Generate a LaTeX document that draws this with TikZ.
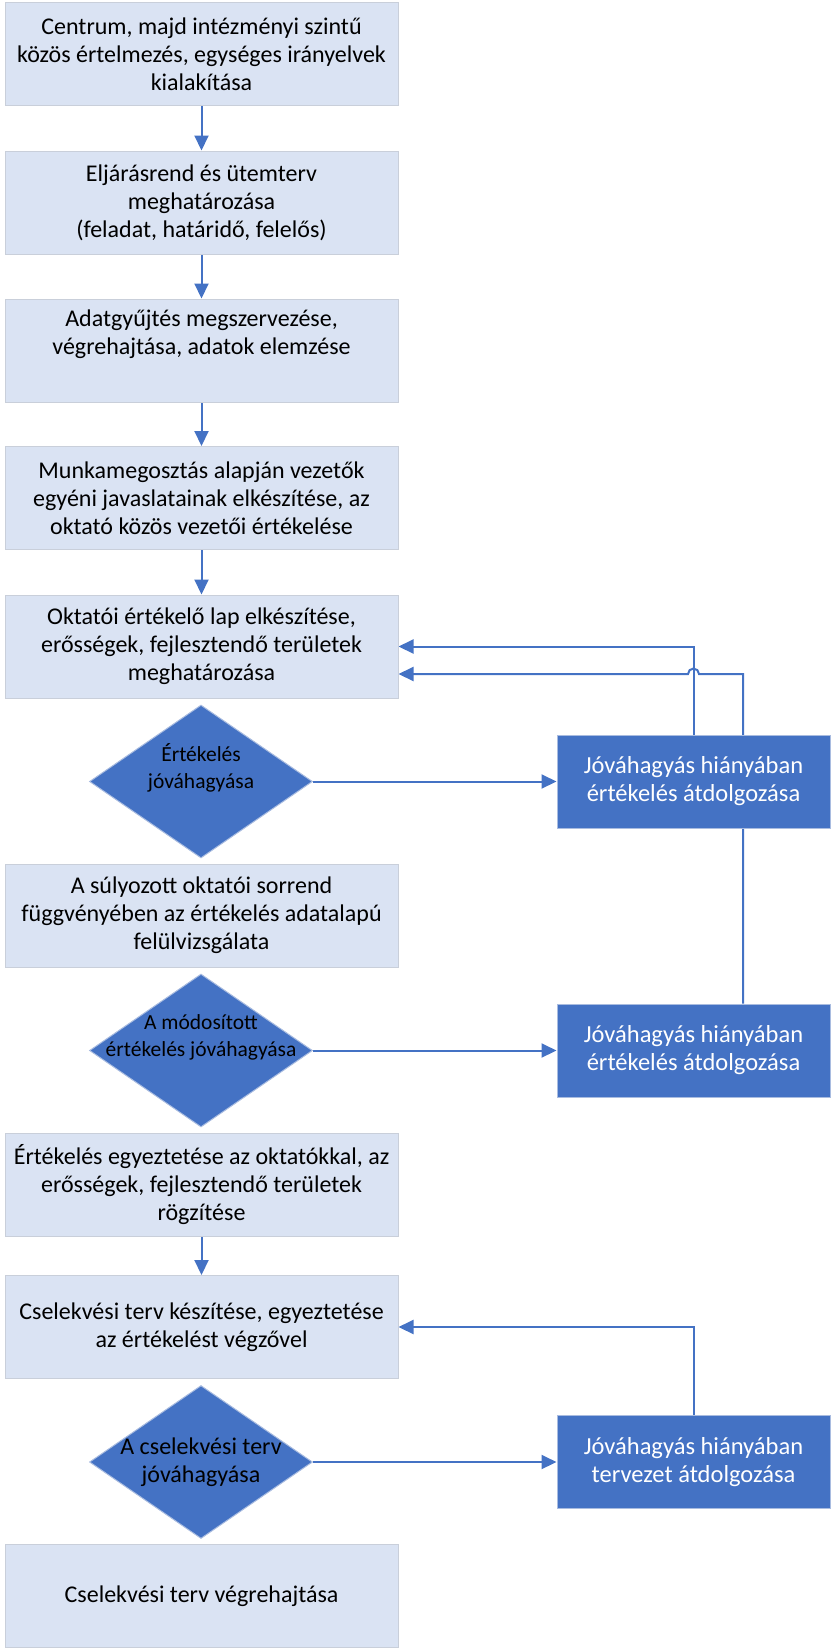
\documentclass[tikz,border=0pt]{standalone}
\usepackage{fontspec}
\setmainfont{Carlito}
\usetikzlibrary{shapes.geometric,arrows.meta,backgrounds}
\definecolor{lightbox}{HTML}{DAE3F3}
\definecolor{lightedge}{HTML}{C9CFDA}
\definecolor{darkblue}{HTML}{4472C4}
\definecolor{darkedge}{HTML}{A9BCE0}
\tikzset{
  stepbox/.style={draw=lightedge, line width=1pt, fill=lightbox, minimum width=393pt, minimum height=103pt, inner sep=0pt, align=center, text=black, font=\fontsize{24}{28}\selectfont},
  altbox/.style={draw=darkedge, line width=1pt, fill=darkblue, minimum width=273pt, minimum height=93pt, inner sep=0pt, align=center, text=white, font=\fontsize{24.5}{28}\selectfont},
  decide/.style={diamond, draw=darkedge, line width=1pt, fill=darkblue, minimum width=223pt, minimum height=153pt, inner sep=0pt, aspect=1.46},
  dlabel/.style={align=center, text=black, inner sep=0pt},
  arr/.style={draw=darkblue, line width=2pt, -{Triangle[width=14pt,length=15pt]}},
}
\begin{document}
\begin{tikzpicture}[x=1pt,y=-1pt]
\useasboundingbox (0,0) rectangle (830,1649);
\node[stepbox] (b1) at (201.5,54) {Centrum, majd intézményi szintű\\közös értelmezés, egységes irányelvek\\kialakítása};
\node[stepbox] (b2) at (201.5,202.5) {Eljárásrend és ütemterv\\meghatározása\\(feladat, határidő, felelős)};
\node[stepbox] (b3) at (201.5,350.5) {Adatgyűjtés megszervezése,\\végrehajtása, adatok elemzése\\\strut};
\node[stepbox] (b4) at (201.5,498) {Munkamegosztás alapján vezetők\\egyéni javaslatainak elkészítése, az\\oktató közös vezetői értékelése};
\node[stepbox] (b5) at (201.5,646.5) {Oktatói értékelő lap elkészítése,\\erősségek, fejlesztendő területek\\meghatározása};
\node[decide, label={[dlabel, font=\fontsize{21.5}{27}\selectfont, yshift=13.5pt]center:Értékelés\\jóváhagyása}] (d1) at (201,781.5) {};
\node[altbox] (r1) at (693.5,781.5) {Jóváhagyás hiányában\\értékelés átdolgozása};
\node[stepbox] (b6) at (201.5,915.5) {A súlyozott oktatói sorrend\\függvényében az értékelés adatalapú\\felülvizsgálata};
\node[decide, label={[dlabel, font=\fontsize{21.5}{27}\selectfont, yshift=13.5pt]center:A módosított\\értékelés jóváhagyása}] (d2) at (201,1050.5) {};
\node[altbox] (r2) at (693.5,1050.5) {Jóváhagyás hiányában\\értékelés átdolgozása};
\node[stepbox] (b7) at (201.5,1184.5) {Értékelés egyeztetése az oktatókkal, az\\erősségek, fejlesztendő területek\\rögzítése};
\node[stepbox] (b8) at (201.5,1327) {Cselekvési terv készítése, egyeztetése\\az értékelést végzővel};
\node[decide, label={[dlabel, font=\fontsize{24}{28}\selectfont]center:A cselekvési terv\\jóváhagyása}] (d3) at (201,1462) {};
\node[altbox] (r3) at (693.5,1462) {Jóváhagyás hiányában\\tervezet átdolgozása};
\node[stepbox] (b9) at (201.5,1596) {Cselekvési terv végrehajtása};

\begin{scope}[on background layer]
\draw[arr] (b1) -- (b2);
\draw[arr] (b2) -- (b3);
\draw[arr] (b3) -- (b4);
\draw[arr] (b4) -- (b5);
\draw[arr] (b7) -- (b8);
\draw[arr] (d1.east) -- (r1.west);
\draw[arr] (d2.east) -- (r2.west);
\draw[arr] (d3.east) -- (r3.west);
\draw[arr] (r1.north) |- (b5.east);
\draw[arr] ([xshift=49.5pt]r2.north) |- ([xshift=5.5pt]r1.north |- 0,674)
  arc[start angle=0, end angle=180, radius=5.5pt] -- ([yshift=-27.5pt]b5.east);
\draw[arr] (r3.north) |- (b8.east);
\end{scope}
\end{tikzpicture}
\end{document}
